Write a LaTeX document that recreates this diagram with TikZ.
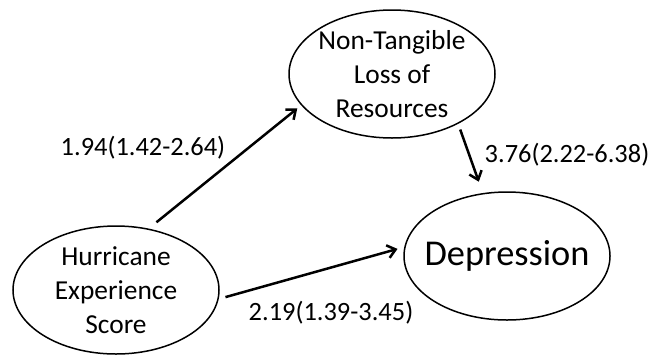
\documentclass[tikz,border=0pt]{standalone}
\usepackage{fontspec}
\setmainfont{Carlito}
\usetikzlibrary{shapes.geometric,arrows.meta}
\tikzset{
  factor/.style={draw,ellipse,line width=1.5bp,minimum width=206bp,minimum height=128bp,inner sep=0pt},
  ftext/.style={align=center,font=\fontsize{27.5}{34}\selectfont},
  effect/.style={line width=2.5bp,-{Straight Barb[length=8bp,width=13bp]}},
  est/.style={font=\fontsize{26.5}{32}\selectfont,inner sep=0pt}
}
\begin{document}
\begin{tikzpicture}[x=1bp,y=-1bp]
	\useasboundingbox (0,0) rectangle (663,354);
	
	\node[factor,label={[ftext]center:Non-Tangible\\Loss of\\Resources}] (ntl) at (392,74) {};
	\node[factor,label={[ftext]center:Hurricane\\Experience\\Score}] (hes) at (116,290) {};
	\node[factor,label={[font=\fontsize{36.5}{40}\selectfont]center:Depression}] (dep) at (507,256) {};
	
	\node[est] (e1) at (143,148) {1.94(1.42-2.64)};
	\node[est] (e2) at (567,155) {3.76(2.22-6.38)};
	\node[est] (e3) at (331,313) {2.19(1.39-3.45)};
	
	\draw[effect,shorten <=10bp,shorten >=5bp] (hes.62) -- (ntl.199);
	\draw[effect,shorten <=6bp,shorten >=12bp] (ntl.-37) -- (dep.111);
	\draw[effect,shorten <=7bp,shorten >=7bp] (hes.-5) -- (dep.175);
\end{tikzpicture}
\end{document}
